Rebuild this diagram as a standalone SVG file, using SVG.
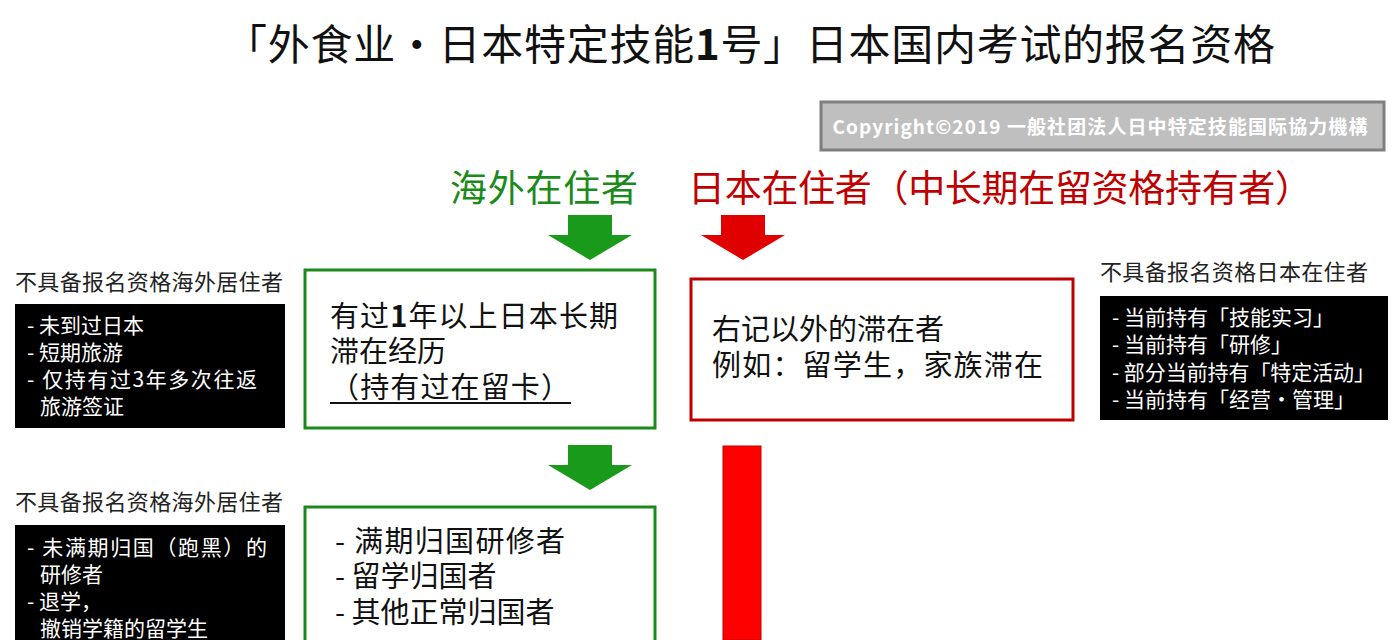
<svg xmlns="http://www.w3.org/2000/svg" width="1399" height="640" viewBox="0 0 1399 640">
<style>
text{font-family:"Noto Sans CJK SC","Liberation Sans",sans-serif}
.lbl{font-size:22px;fill:#222}
.wt{font-size:21px;fill:#fff}
.bt{font-size:29px;fill:#111}
.gbox{fill:#fff;stroke:#1a8a1a;stroke-width:3}
.blk{fill:#000}
</style>
<rect width="1399" height="640" fill="#fff"/>
<text x="750" y="60" font-size="42" text-anchor="middle" fill="#111" textLength="1050">「外食业·日本特定技能<tspan font-weight="bold">1</tspan>号」日本国内考试的报名资格</text>
<g id="copyright">
<rect x="821" y="102" width="563" height="48" fill="#bfbfbf" stroke="#7f7f7f" stroke-width="3"/>
<text x="1100" y="134" font-size="19" font-weight="bold" fill="#fff" text-anchor="middle" textLength="535">Copyright©2019 一般社团法人日中特定技能国际協力機構</text>
</g>
<text x="450" y="202" font-size="37" fill="#1a8a1a" textLength="188">海外在住者</text>
<text x="688" y="202" font-size="37" fill="#c00000" textLength="624">日本在住者（中长期在留资格持有者）</text>
<g id="connectors">
<polygon points="568,215 612,215 612,235 632,235 590,260 548,235 568,235" fill="#1a9a1a"/>
<polygon points="721,215 765,215 765,235 785,235 743,260 701,235 721,235" fill="#e00000"/>
<polygon points="568,445 612,445 612,465 632,465 590,490 548,465 568,465" fill="#1a9a1a"/>
<rect x="723" y="446" width="38" height="194" fill="#ff0000" stroke="#c00000"/>
</g>
<g id="ng1">
<text x="15" y="290" class="lbl" textLength="268">不具备报名资格海外居住者</text>
<rect x="15" y="304" width="270" height="124" class="blk"/>
<text class="wt"><tspan x="27" y="333">- 未到过日本</tspan><tspan x="27" y="360">- 短期旅游</tspan><tspan x="27" y="387" textLength="230">- 仅持有过3年多次往返</tspan><tspan x="40" y="414">旅游签证</tspan></text>
</g>
<g id="box1">
<rect x="305" y="270" width="350" height="158" class="gbox"/>
<text class="bt"><tspan x="330" y="327" textLength="288">有过<tspan font-weight="bold">1</tspan>年以上日本长期</tspan><tspan x="330" y="362">滞在经历</tspan><tspan x="330" y="398" textLength="240">（持有过在留卡）</tspan></text>
<line x1="330" y1="403" x2="571" y2="403" stroke="#111" stroke-width="2"/>
</g>
<g id="box2">
<rect x="691" y="279" width="382" height="141" fill="#fff" stroke="#c00000" stroke-width="3"/>
<text class="bt"><tspan x="712" y="340">右记以外的滞在者</tspan><tspan x="712" y="376" textLength="331">例如：留学生，家族滞在</tspan></text>
</g>
<g id="ng2">
<text x="1100" y="280" class="lbl" textLength="268">不具备报名资格日本在住者</text>
<rect x="1100" y="296" width="288" height="124" class="blk"/>
<text class="wt"><tspan x="1112" y="325">- 当前持有「技能实习」</tspan><tspan x="1112" y="352">- 当前持有「研修」</tspan><tspan x="1112" y="380" textLength="263">- 部分当前持有「特定活动」</tspan><tspan x="1112" y="407">- 当前持有「经营·管理」</tspan></text>
</g>
<g id="ng3">
<text x="15" y="510" class="lbl" textLength="268">不具备报名资格海外居住者</text>
<rect x="15" y="525" width="270" height="120" class="blk"/>
<text class="wt"><tspan x="27" y="555" textLength="240">- 未满期归国（跑黑）的</tspan><tspan x="40" y="582">研修者</tspan><tspan x="27" y="609">- 退学，</tspan><tspan x="40" y="636">撤销学籍的留学生</tspan></text>
</g>
<g id="box3">
<rect x="305" y="507" width="350" height="140" class="gbox"/>
<text class="bt"><tspan x="335" y="552" textLength="230">- 满期归国研修者</tspan><tspan x="335" y="587">- 留学归国者</tspan><tspan x="335" y="623">- 其他正常归国者</tspan></text>
</g>
</svg>
